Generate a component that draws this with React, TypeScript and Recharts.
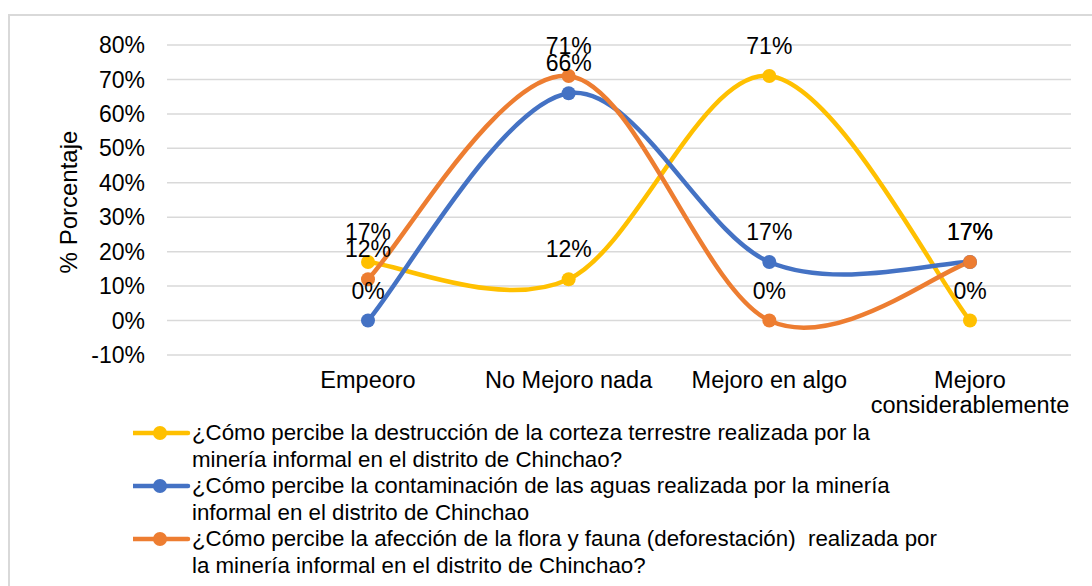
import React from "react";
import { LineChart, Line, XAxis, YAxis, CartesianGrid, LabelList } from "recharts";

const categories = ["Empeoro", "No Mejoro nada", "Mejoro en algo", "Mejoro considerablemente"];

// percentages per series
const corteza = [17, 12, 71, 0];
const aguas = [0, 66, 17, 17];
const flora = [12, 71, 0, 17];

const yTicks = [-10, 0, 10, 20, 30, 40, 50, 60, 70, 80];

const seriesNames = [
  "¿Cómo percibe la destrucción de la corteza terrestre realizada por la minería informal en el distrito de Chinchao?",
  "¿Cómo percibe la contaminación de las aguas realizada por la minería informal en el distrito de Chinchao",
  "¿Cómo percibe la afección de la flora y fauna (deforestación)  realizada por la minería informal en el distrito de Chinchao?",
];
// where each legend entry wraps
const legendBreaks = [
  "¿Cómo percibe la destrucción de la corteza terrestre realizada por la".length,
  "¿Cómo percibe la contaminación de las aguas realizada por la minería".length,
  "¿Cómo percibe la afección de la flora y fauna (deforestación)  realizada por".length,
];

const colors = ["#FFC000", "#4472C4", "#ED7D31"];

const chartData = categories.map((cat, i) => ({
  cat,
  corteza: corteza[i],
  aguas: aguas[i],
  flora: flora[i],
}));

const keys = ["corteza", "aguas", "flora"];

const FONT = "'Liberation Sans', Arial, sans-serif";

// Excel-like smoothed line (catmull-rom, 1/6 tangents)
const excelCurve = (context: any) => {
  let pts: number[][] = [];
  return {
    areaStart() {},
    areaEnd() {},
    lineStart() {
      pts = [];
    },
    point(x: number, y: number) {
      pts.push([+x, +y]);
    },
    lineEnd() {
      if (!pts.length) return;
      context.moveTo(pts[0][0], pts[0][1]);
      for (let i = 0; i < pts.length - 1; i++) {
        const p0 = pts[i - 1] || pts[i];
        const p1 = pts[i];
        const p2 = pts[i + 1];
        const p3 = pts[i + 2] || p2;
        context.bezierCurveTo(
          p1[0] + (p2[0] - p0[0]) / 6,
          p1[1] + (p2[1] - p0[1]) / 6,
          p2[0] - (p3[0] - p1[0]) / 6,
          p2[1] - (p3[1] - p1[1]) / 6,
          p2[0],
          p2[1]
        );
      }
    },
  };
};

// greedy wrap by character count
const wrap = (s: string, max: number) => {
  const lines: string[] = [];
  let cur = "";
  s.split(" ").forEach((w) => {
    if (cur && (cur + " " + w).length > max) {
      lines.push(cur);
      cur = w;
    } else {
      cur = cur ? cur + " " + w : w;
    }
  });
  if (cur) lines.push(cur);
  return lines;
};

const CategoryTick = (props: any) => {
  const { x, y, payload } = props;
  const lines = wrap(String(payload.value), 17);
  return (
    <text x={x} y={y} textAnchor="middle" fontSize={23.5} fill="#000">
      {lines.map((l, i) => (
        <tspan key={i} x={x} dy={i === 0 ? 17 : 25}>
          {l}
        </tspan>
      ))}
    </text>
  );
};

const renderValue = (props: any) => {
  const { x, y, value } = props;
  if (value === null || value === undefined) return null;
  return (
    <text x={x} y={y - 22} textAnchor="middle" fontSize={23} fill="#000">
      {`${value}%`}
    </text>
  );
};

export default function App() {
  return (
    <div style={{ position: "absolute", left: 0, top: 0, width: 1092, height: 586, overflow: "hidden", background: "#fff", fontFamily: FONT }}>
      <div
        style={{
          position: "absolute",
          left: 8,
          top: 14,
          width: 1100,
          height: 600,
          borderTop: "2px solid #d9d9d9",
          borderLeft: "2px solid #d9d9d9",
        }}
      />
      <div style={{ position: "absolute", left: 0, top: 0 }}>
        <LineChart width={1092} height={420} data={chartData} margin={{ top: 45, right: 21, left: 0, bottom: 15 }}>
          <CartesianGrid vertical={false} stroke="#d9d9d9" strokeWidth={1.5} />
          <XAxis
            dataKey="cat"
            interval={0}
            axisLine={false}
            tickLine={false}
            tickSize={0}
            tickMargin={16}
            height={50}
            padding={{ left: 201, right: 101 }}
            tick={<CategoryTick />}
          />
          <YAxis
            domain={[-10, 80]}
            ticks={yTicks}
            width={167}
            axisLine={false}
            tickLine={false}
            tickSize={0}
            tickMargin={22}
            tick={{ fontSize: 23, fill: "#000" }}
            tickFormatter={(v: number) => `${v}%`}
            label={{
              content: () => (
                <text x={68} y={202} transform="rotate(-90 68 202)" textAnchor="middle" dominantBaseline="central" fontSize={24} fill="#000">
                  % Porcentaje
                </text>
              ),
            }}
          />
          {keys.map((k, i) => (
            <Line
              key={k}
              dataKey={k}
              name={seriesNames[i]}
              type={excelCurve as any}
              stroke={colors[i]}
              strokeWidth={4.5}
              dot={{ r: 7, fill: colors[i], stroke: colors[i], strokeWidth: 0 }}
              activeDot={false}
              isAnimationActive={false}
            >
              <LabelList dataKey={k} content={renderValue} />
            </Line>
          ))}
        </LineChart>
      </div>
      {/* legend */}
      <div style={{ position: "absolute", left: 133, top: 420, fontSize: 22.3, color: "#000", lineHeight: "26.5px" }}>
        {seriesNames.map((name, i) => (
          <div key={i} style={{ display: "flex", alignItems: "flex-start" }}>
            <svg width={59} height={26} style={{ flex: "none" }}>
              <line x1={0} x2={55} y1={13} y2={13} stroke={colors[i]} strokeWidth={4.5} strokeLinecap="round" />
              <circle cx={27} cy={13} r={7} fill={colors[i]} />
            </svg>
            <div style={{ whiteSpace: "pre" }}>
              {name.slice(0, legendBreaks[i])}
              <br />
              {name.slice(legendBreaks[i] + 1)}
            </div>
          </div>
        ))}
      </div>
    </div>
  );
}
